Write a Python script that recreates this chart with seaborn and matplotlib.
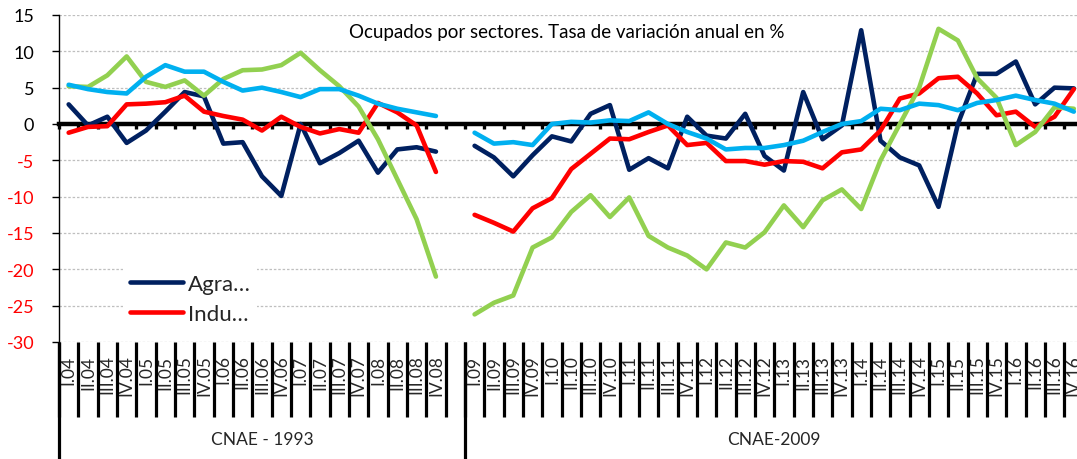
import matplotlib
matplotlib.use("Agg")
import matplotlib.pyplot as plt
from matplotlib.lines import Line2D
import numpy as np
import pandas as pd
import seaborn as sns


TITULO = "Ocupados por sectores. Tasa de variación anual en %"
TRIMESTRES = ["I", "II", "III", "IV"]
ANIOS_CNAE93 = ["04", "05", "06", "07", "08"]
ANIOS_CNAE09 = ["09", "10", "11", "12", "13", "14", "15", "16"]
GRUPOS = ["CNAE - 1993", "CNAE-2009"]

SECTORES = ["Agrario", "Industria", "Construcción", "Servicios"]
LEYENDA = ["Agra…", "Indu…"]
COLORES = ["#002060", "#FF0000", "#92D050", "#00B0F0"]

# CNAE-1993: I.04 - IV.08
AGRA_93 = [2.7, -0.2, 1.0, -2.6, -0.9, 1.7, 4.4, 3.8, -2.7, -2.5,
           -7.2, -9.9, 0.0, -5.4, -4.0, -2.3, -6.7, -3.5, -3.2, -3.8]
INDU_93 = [-1.2, -0.4, -0.3, 2.7, 2.8, 3.0, 3.9, 1.7, 1.1, 0.6,
           -0.9, 1.0, -0.4, -1.3, -0.7, -1.2, 2.9, 1.6, -0.2, -6.6]
CONS_93 = [5.2, 5.1, 6.7, 9.3, 5.8, 5.1, 6.0, 3.9, 6.2, 7.4,
           7.5, 8.1, 9.8, 7.4, 5.2, 2.4, -2.1, -7.6, -13.1, -21.0]
SERV_93 = [5.4, 4.8, 4.4, 4.2, 6.5, 8.1, 7.2, 7.2, 5.8, 4.6,
           5.0, 4.4, 3.7, 4.8, 4.8, 3.9, 2.8, 2.1, 1.6, 1.1]

# CNAE-2009: I.09 - IV.16
AGRA_09 = [-3.0, -4.6, -7.2, -4.3, -1.7, -2.4, 1.4, 2.6, -6.3, -4.7,
           -6.1, 1.0, -1.6, -2.0, 1.4, -4.4, -6.4, 4.4, -2.1, -0.2,
           12.9, -2.3, -4.6, -5.7, -11.4, 0.0, 6.9, 6.9, 8.6, 2.7, 5.0, 4.9]
INDU_09 = [-12.5, -13.6, -14.8, -11.6, -10.2, -6.2, -4.1, -2.0, -2.1, -1.1,
           -0.2, -2.9, -2.6, -5.1, -5.1, -5.6, -5.1, -5.2, -6.1, -3.9,
           -3.5, -0.9, 3.5, 4.2, 6.3, 6.5, 4.2, 1.2, 1.7, -0.4, 1.0, 4.8]
CONS_09 = [-26.2, -24.6, -23.6, -17.0, -15.6, -12.1, -9.8, -12.8, -10.1, -15.4,
           -17.0, -18.1, -20.0, -16.3, -17.0, -14.9, -11.2, -14.2, -10.5, -9.0,
           -11.7, -5.0, 0.0, 5.0, 13.1, 11.5, 6.3, 3.6, -2.9, -1.1, 2.3, 2.1]
SERV_09 = [-1.2, -2.7, -2.5, -2.9, 0.0, 0.3, 0.2, 0.5, 0.4, 1.6,
           0.0, -1.1, -2.0, -3.5, -3.3, -3.3, -2.9, -2.3, -1.1, 0.0,
           0.4, 2.1, 1.9, 2.8, 2.6, 1.9, 2.9, 3.3, 3.9, 3.3, 2.8, 1.7]


def periodos(anios):
    return [f"{t}.{a}" for a in anios for t in TRIMESTRES]


def main() -> None:
    per93 = periodos(ANIOS_CNAE93)
    per09 = periodos(ANIOS_CNAE09)
    # Excel leaves an empty category at the end of the first group
    categorias = per93 + [""] + per09
    pos = {c: i for i, c in enumerate(categorias) if c}

    tramos = {
        "CNAE-93": (per93, [AGRA_93, INDU_93, CONS_93, SERV_93]),
        "CNAE-09": (per09, [AGRA_09, INDU_09, CONS_09, SERV_09]),
    }
    filas = []
    for tramo, (pers, series) in tramos.items():
        for sector, valores in zip(SECTORES, series):
            for p, v in zip(pers, valores):
                filas.append({"tramo": tramo, "sector": sector, "pos": pos[p], "valor": v})
    df = pd.DataFrame(filas)

    sns.set_theme(style="white")
    plt.rcParams["font.family"] = ["Lato", "DejaVu Sans"]

    fig = plt.figure(figsize=(10.77, 4.6), dpi=100)
    n = len(categorias)
    ax = fig.add_axes([59 / 1077, 117 / 460, 19.33 * n / 1077, 327 / 460])

    sns.lineplot(
        data=df, x="pos", y="valor", hue="sector", hue_order=SECTORES,
        units="tramo", estimator=None, sort=False,
        palette=COLORES, linewidth=3.3, legend=False, ax=ax, zorder=3,
        solid_capstyle="round", solid_joinstyle="round",
    )

    ax.set_xlim(-0.5, n - 0.5)
    ax.set_ylim(-30, 15)
    ax.set_xlabel("")
    ax.set_ylabel("")

    for s in ["top", "right"]:
        ax.spines[s].set_visible(False)
    ax.spines["bottom"].set_position(("data", 0))
    ax.spines["bottom"].set_linewidth(3.2)
    ax.spines["bottom"].set_color("black")
    ax.spines["left"].set_linewidth(1.0)
    ax.spines["left"].set_color("black")

    limites = np.arange(n + 1) - 0.5
    ax.set_xticks(limites)
    ax.tick_params(axis="x", bottom=True, direction="out", length=3.5, width=2.4,
                   color="black", labelbottom=False)

    yvals = list(range(-30, 16, 5))
    ax.set_yticks(yvals, labels=[str(v) for v in yvals])
    ax.tick_params(axis="y", left=True, direction="out", length=5, width=1,
                   color="black", pad=13, labelsize=13)
    for lbl, v in zip(ax.get_yticklabels(), yvals):
        lbl.set_color("#FF0000" if v < 0 else "black")
    ax.yaxis.grid(True, color="#bfbfbf", linestyle=(0, (2, 1.5)), linewidth=0.9)
    ax.set_axisbelow(True)

    # quarter labels with thick separators
    sec = ax.secondary_xaxis("bottom")
    sec.spines["bottom"].set_visible(False)
    sec.set_xticks(limites)
    sec.set_xticks(np.arange(n), labels=categorias, minor=True)
    sec.tick_params(which="major", bottom=True, direction="out", length=54, width=2.3,
                    color="black", labelbottom=False)
    sec.tick_params(which="minor", bottom=True, length=0, pad=9, labelrotation=90,
                    labelsize=12.5)

    # group labels
    sep = len(per93) + 0.5
    sec2 = ax.secondary_xaxis("bottom")
    sec2.spines["bottom"].set_visible(False)
    sec2.set_xticks([-0.5, sep, n - 0.5])
    sec2.set_xticks([(sep - 0.5) / 2, (sep + n - 0.5) / 2], labels=GRUPOS, minor=True)
    sec2.tick_params(which="major", bottom=True, direction="out", length=84, width=2.3,
                     color="black", labelbottom=False)
    sec2.tick_params(which="minor", bottom=True, length=0, pad=64, labelsize=12.5)

    ax.text(0.496, 0.951, TITULO, transform=ax.transAxes, ha="center", va="center",
            fontsize=13.5, color="black")

    handles = [Line2D([], [], color=c, lw=3.3, solid_capstyle="round") for c in COLORES[:2]]
    ax.legend(handles, LEYENDA, loc="lower left", bbox_to_anchor=(0.052, 0.0),
              fontsize=16, frameon=True, facecolor="white", edgecolor="none",
              framealpha=1, fancybox=False, handlelength=2.4, handletextpad=0.2,
              labelspacing=0.45, borderpad=0.3)

    fig.savefig("out.png", dpi=100)
    plt.close(fig)


if __name__ == "__main__":
    main()
